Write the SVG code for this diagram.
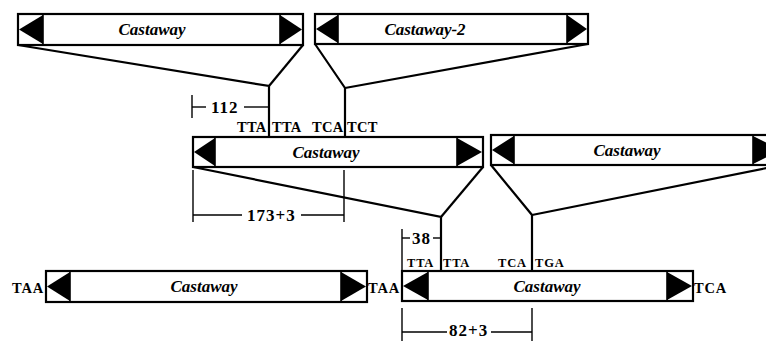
<svg xmlns="http://www.w3.org/2000/svg" width="766" height="341" viewBox="0 0 766 341">
<style>
.box rect{fill:#fff;stroke:#000;stroke-width:2.2}
.box line{stroke:#000;stroke-width:1.6}
.box path{fill:#000;stroke:none}
.name{font-family:"Liberation Serif",serif;font-weight:bold;font-style:italic;font-size:17px;text-anchor:middle}
.lbl{font-family:"Liberation Serif",serif;font-weight:bold;font-size:14.5px}
.sm{font-family:"Liberation Serif",serif;font-weight:bold;font-size:12.5px;letter-spacing:0.8px}
.dim{font-family:"Liberation Serif",serif;font-weight:bold;font-size:17px;letter-spacing:1px}
.conn{fill:none;stroke:#000;stroke-width:2.2;stroke-linejoin:miter}
.dl{fill:none;stroke:#000;stroke-width:1.4}
</style>
<rect width="766" height="341" fill="#fff"/>
<g id="connectors">
<polyline class="conn" points="18,45 269,86 269,137"/>
<polyline class="conn" points="303,45 269,86"/>
<polyline class="conn" points="315,44 345,88 345,137"/>
<polyline class="conn" points="588,44 345,88"/>
<polyline class="conn" points="193,167 441,217 441,271"/>
<polyline class="conn" points="483,167 441,217"/>
<polyline class="conn" points="491,165 532,215 532,271"/>
<polyline class="conn" points="782,165 532,215"/>
</g>
<g id="box1" class="box">
<rect x="18" y="14" width="285" height="31"/>
<line x1="43" y1="14" x2="43" y2="45"/><line x1="280" y1="14" x2="280" y2="45"/>
<path d="M43,15 L19,29.5 L43,44 Z"/><path d="M280,15 L302,29.5 L280,44 Z"/>
<text class="name" x="152" y="35">Castaway</text>
</g>
<g id="box2" class="box">
<rect x="315" y="14" width="273" height="30"/>
<line x1="338" y1="14" x2="338" y2="44"/><line x1="567" y1="14" x2="567" y2="44"/>
<path d="M338,15 L316,29 L338,43 Z"/><path d="M567,15 L587,29 L567,43 Z"/>
<text class="name" x="425" y="35">Castaway-2</text>
</g>
<g id="box3" class="box">
<rect x="193" y="137" width="290" height="30"/>
<line x1="215" y1="137" x2="215" y2="167"/><line x1="457" y1="137" x2="457" y2="167"/>
<path d="M215,138 L194,152 L215,166 Z"/><path d="M457,138 L482,152 L457,166 Z"/>
<text class="name" x="326" y="158">Castaway</text>
</g>
<g id="box4" class="box">
<rect x="491" y="135" width="291" height="30"/>
<line x1="514" y1="135" x2="514" y2="165"/><line x1="753" y1="135" x2="753" y2="165"/>
<path d="M514,136 L492,150 L514,164 Z"/><path d="M753,136 L781,150 L753,164 Z"/>
<text class="name" x="627" y="156">Castaway</text>
</g>
<g id="box5" class="box">
<rect x="46" y="271" width="321" height="31"/>
<line x1="70" y1="271" x2="70" y2="302"/><line x1="341" y1="271" x2="341" y2="302"/>
<path d="M70,272 L47,286.5 L70,301 Z"/><path d="M341,272 L366,286.5 L341,301 Z"/>
<text class="name" x="204" y="292">Castaway</text>
</g>
<g id="box6" class="box">
<rect x="402" y="271" width="291" height="30"/>
<line x1="428" y1="271" x2="428" y2="301"/><line x1="667" y1="271" x2="667" y2="301"/>
<path d="M428,272 L403,286 L428,300 Z"/><path d="M667,272 L692,286 L667,300 Z"/>
<text class="name" x="547" y="292">Castaway</text>
</g>
<g id="labels">
<text class="lbl" x="237" y="132" letter-spacing="0.3">TTA</text>
<text class="lbl" x="272" y="132" letter-spacing="0.3">TTA</text>
<text class="lbl" x="312" y="132" letter-spacing="0.3">TCA</text>
<text class="lbl" x="347" y="132" letter-spacing="0.3">TCT</text>
<text class="sm" x="407" y="267">TTA</text>
<text class="sm" x="443" y="267">TTA</text>
<text class="sm" x="498" y="267">TCA</text>
<text class="sm" x="535" y="267">TGA</text>
<text class="lbl" x="12" y="293" font-size="13" letter-spacing="0.8">TAA</text>
<text class="lbl" x="368" y="293" font-size="13" letter-spacing="0.8">TAA</text>
<text class="lbl" x="694" y="293" font-size="13" letter-spacing="0.8">TCA</text>
</g>
<g id="dimensions">
<line class="dl" x1="192" y1="95" x2="192" y2="118"/>
<line class="dl" x1="192" y1="107" x2="206" y2="107"/>
<line class="dl" x1="244" y1="107" x2="268" y2="107"/>
<text class="dim" x="211" y="113">112</text>
<line class="dl" x1="193" y1="170" x2="193" y2="222"/>
<line class="dl" x1="344" y1="170" x2="344" y2="222"/>
<line class="dl" x1="193" y1="215" x2="242" y2="215"/>
<line class="dl" x1="301" y1="215" x2="344" y2="215"/>
<text class="dim" x="247" y="221">173+3</text>
<line class="dl" x1="402" y1="229" x2="402" y2="271"/>
<line class="dl" x1="402" y1="238" x2="410" y2="238"/>
<line class="dl" x1="433" y1="238" x2="441" y2="238"/>
<text class="dim" x="412" y="244" letter-spacing="0.5">38</text>
<line class="dl" x1="402" y1="308" x2="402" y2="341"/>
<line class="dl" x1="532" y1="308" x2="532" y2="341"/>
<line class="dl" x1="402" y1="332" x2="447" y2="332"/>
<line class="dl" x1="491" y1="332" x2="532" y2="332"/>
<text class="dim" x="449" y="336" font-size="15">82+3</text>
</g>
</svg>
